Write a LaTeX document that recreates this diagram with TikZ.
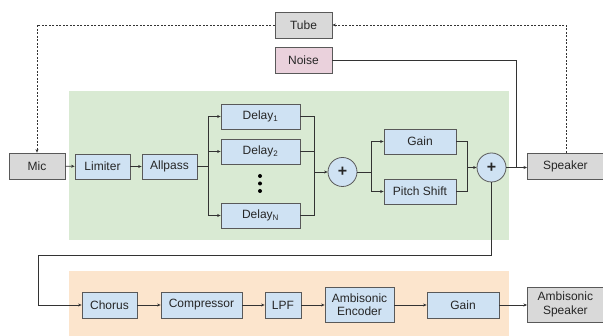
\documentclass[tikz,border=0pt]{standalone}
\usepackage{fontspec}
\setmainfont{Liberation Sans}
\usetikzlibrary{arrows.meta}
\definecolor{bluefill}{HTML}{CFE2F3}
\definecolor{grayfill}{HTML}{D9D9D9}
\definecolor{pinkfill}{HTML}{EAD1DC}
\definecolor{greenbg}{HTML}{D9EAD3}
\definecolor{orangebg}{HTML}{FCE5CD}
\definecolor{edge}{HTML}{595959}
\definecolor{wire}{HTML}{333333}
\definecolor{txt}{HTML}{262626}
\begin{document}
\begin{tikzpicture}[x=1pt,y=-1pt,
  blk/.style={draw=edge,line width=0.8pt,fill=bluefill,inner sep=0pt,minimum height=25pt,font=\fontsize{12}{13}\selectfont,text=txt,align=center},
  grayblk/.style={blk,fill=grayfill},
  pinkblk/.style={blk,fill=pinkfill},
  sumnode/.style={circle,draw=edge,line width=0.8pt,fill=bluefill,minimum size=29pt,inner sep=0pt,font=\fontsize{16}{16}\selectfont\bfseries,text=txt},
  wirestyle/.style={draw=wire,line width=0.7pt},
  arr/.style={wirestyle,-{Stealth[length=3.5pt,width=3pt]}},
  darr/.style={arr,dash pattern=on 2pt off 1.5pt}
]
\useasboundingbox (0,0) rectangle (603,336);
\fill[white] (0,0) rectangle (603,336);
% backgrounds
\fill[greenbg] (69,91) rectangle (509,240);
\fill[orangebg] (69,271) rectangle (509,336);
% top boxes
\node[grayblk,minimum width=57pt,minimum height=26pt] (tube) at (303.5,25) {Tube};
\node[pinkblk,minimum width=57pt,minimum height=26pt] (noise) at (303.5,60) {Noise};
% main row
\node[grayblk,minimum width=56pt,minimum height=26pt] (mic) at (37,166) {Mic};
\node[blk,minimum width=55pt] (lim) at (102.5,166.5) {Limiter};
\node[blk,minimum width=55pt] (allp) at (169.5,166.5) {Allpass};
\node[blk,minimum width=79pt] (d1) at (260.5,116.5) {Delay\textsubscript{1}};
\node[blk,minimum width=79pt] (d2) at (260.5,151.5) {Delay\textsubscript{2}};
\node[blk,minimum width=79pt] (dn) at (260.5,215.5) {Delay\textsubscript{N}};
\fill[black] (260,176) circle (2pt) (260,183.5) circle (2pt) (260,191) circle (2pt);
\node[sumnode] (s1) at (342.5,172) {+};
\node[blk,minimum width=72pt] (gain) at (420,141.5) {Gain};
\node[blk,minimum width=72pt] (pitch) at (420,191.5) {Pitch Shift};
\node[sumnode] (s2) at (491.5,167.5) {+};
\node[grayblk,minimum width=76pt,minimum height=26pt,anchor=west] (spk) at (527,166) {Speaker};
% bottom row
\node[blk,minimum width=55pt,minimum height=26pt] (chorus) at (109.5,305) {Chorus};
\node[blk,minimum width=81pt,minimum height=26pt] (comp) at (201.5,305) {Compressor};
\node[blk,minimum width=36pt,minimum height=26pt] (lpf) at (283,305) {LPF};
\node[blk,minimum width=69pt,minimum height=35pt,font=\fontsize{12}{13.5}\selectfont] (enc) at (359.5,304.5) {Ambisonic\\Encoder};
\node[blk,minimum width=72pt,minimum height=26pt] (gain2) at (463,305) {Gain};
\node[grayblk,minimum width=76pt,minimum height=35pt,anchor=west,font=\fontsize{12}{13.5}\selectfont] (aspk) at (527,304.5) {Ambisonic\\Speaker};
% coordinates
\coordinate (br1) at (208,166.5);
\coordinate (mg1) at (314,172);
\coordinate (br2) at (371,172);
\coordinate (mg2) at (467,167.5);
\coordinate (nz) at (516,60);
\coordinate (nzj) at (516,167);
\coordinate (tl) at (37,25);
\coordinate (tr) at (566,25);
\coordinate (b1) at (491.5,255);
\coordinate (b2) at (38,255);
\coordinate (b3) at (38,305);
% connectors
\draw[arr] (mic) -- (lim);
\draw[arr] (lim) -- (allp);
\draw[wirestyle] (allp.east) -- (br1);
\draw[arr] (br1) |- (d1.west);
\draw[arr] (br1) |- (d2.west);
\draw[arr] (br1) |- (dn.west);
\draw[wirestyle] (d1.east) -| (mg1);
\draw[wirestyle] (d2.east) -| (mg1);
\draw[wirestyle] (dn.east) -| (mg1);
\draw[arr] (mg1) -- (s1.west);
\draw[wirestyle] (s1.east) -- (br2);
\draw[arr] (br2) |- (gain.west);
\draw[arr] (br2) |- (pitch.west);
\draw[wirestyle] (gain.east) -| (mg2);
\draw[wirestyle] (pitch.east) -| (mg2);
\draw[arr] (mg2) -- (s2.west);
\draw[arr] (s2.east) -- (spk.west |- s2.east);
\draw[wirestyle] (noise.east) -- (nz) -- (nzj);
\draw[darr] (spk.north -| tr) -- (tr) -- (tube.east);
\draw[darr] (tube.west) -- (tl) -- (mic.north -| tl);
\draw[arr] (s2.south) -- (b1) -- (b2) -- (b3) -- (chorus.west);
\draw[arr] (chorus) -- (comp);
\draw[arr] (comp) -- (lpf);
\draw[arr] (lpf) -- (enc.west |- lpf.east);
\draw[arr] (enc.east |- gain2.west) -- (gain2);
\draw[arr] (gain2) -- (aspk.west |- gain2.east);
\end{tikzpicture}
\end{document}
